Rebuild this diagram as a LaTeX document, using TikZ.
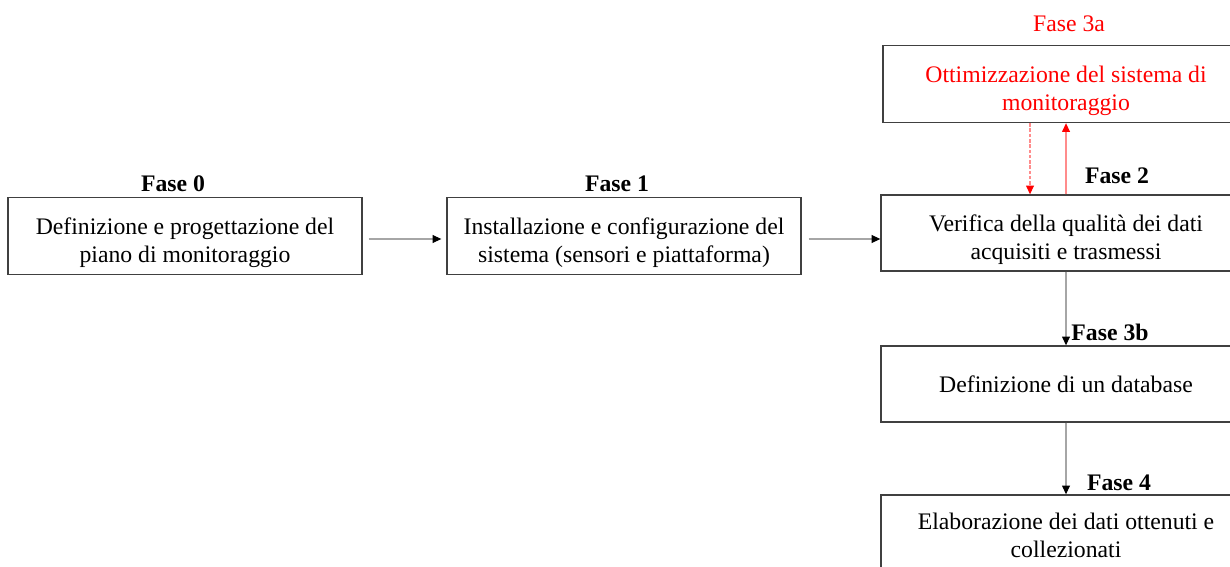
\documentclass[tikz,border=0pt]{standalone}
\usepackage{fontspec}
\setmainfont{Liberation Serif}
\usepackage{xcolor}
\usetikzlibrary{arrows.meta}

\newcommand{\lowstrut}{\rule{0pt}{0.6cm}}

\tikzset{
  fasebox/.style={draw=black!75, line width=0.8pt, rectangle, align=center,
    inner sep=0pt, font=\fontsize{13.5}{15.9}\selectfont},
  faselabel/.style={anchor=base, font=\fontsize{13.5}{15}\selectfont\bfseries},
  flow/.style={black!35, line width=0.6pt, -{Triangle[length=5pt,width=4.5pt,color=black]}},
  redflow/.style={red!45, line width=0.6pt, -{Triangle[length=5pt,width=4.5pt,color=red]}}
}

\begin{document}
\begin{tikzpicture}[x=0.02cm, y=-0.02cm]
  \useasboundingbox (0,0) rectangle (1230,567);
  \clip (0,0) rectangle (1230,567);
  % ---------- Fase 0 e Fase 1 ----------
  \node[fasebox, minimum width=7.08cm, minimum height=1.54cm] (f0) at (185,236)
    {\lowstrut Definizione e progettazione del\\piano di monitoraggio};
  \node[faselabel] (l0) at (173,192) {Fase 0};
  \node[fasebox, minimum width=7.08cm, minimum height=1.54cm] (f1) at (624,236)
    {\lowstrut Installazione e configurazione del\\sistema (sensori e piattaforma)};
  \node[faselabel] (l1) at (617,192) {Fase 1};
  % ---------- Fase 2 ----------
  \node[fasebox, minimum width=7.4cm, minimum height=1.52cm] (f2) at (1066,233)
    {\lowstrut Verifica della qualità dei dati\\acquisiti e trasmessi};
  \node[faselabel] (l2) at (1117,184) {Fase 2};
  % ---------- Fase 3a ----------
  \node[fasebox, text=red, minimum width=7.32cm, minimum height=1.54cm] (f3a) at (1066,84)
    {\lowstrut Ottimizzazione del sistema di\\monitoraggio};
  \node[faselabel, font=\fontsize{13.5}{15}\selectfont, text=red] (l3a) at (1069,32) {Fase 3a};
  % ---------- Fase 3b e Fase 4 ----------
  \node[fasebox, minimum width=7.4cm, minimum height=1.52cm] (f3b) at (1066,384)
    {Definizione di un database};
  \node[faselabel] (l3b) at (1110,340) {Fase 3b};
  \node[fasebox, minimum width=7.4cm, minimum height=1.6cm] (f4) at (1066,535)
    {Elaborazione dei dati ottenuti e\\collezionati};
  \node[faselabel] (l4) at (1119,490) {Fase 4};
  % ---------- frecce ----------
  \draw[flow] ([shift={(6,3)}]f0.east) -- ([shift={(-5,3)}]f1.west);
  \draw[flow] ([shift={(7,3)}]f1.east) -- ([shift={(0,6)}]f2.west);
  \draw[redflow, dash pattern=on 2pt off 1pt] ([shift={(-36,0)}]f3a.south) -- ([shift={(-36,0)}]f2.north);
  \draw[redflow] (f2.north) -- (f3a.south);
  \draw[flow] (f2.south) -- (f3b.north);
  \draw[flow] (f3b.south) -- (f4.north);
\end{tikzpicture}
\end{document}
